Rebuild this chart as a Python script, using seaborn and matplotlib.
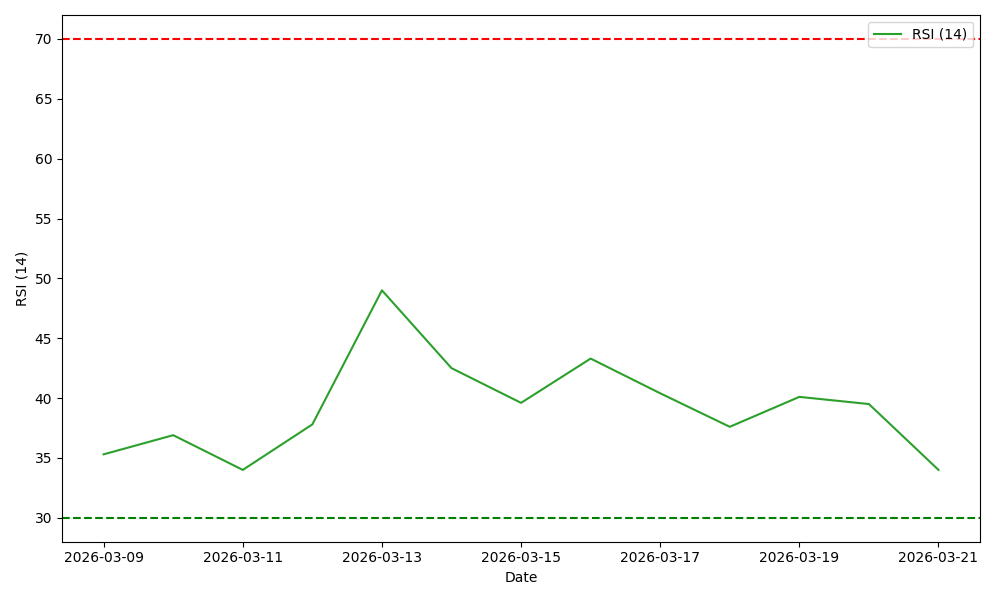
import matplotlib

matplotlib.use("Agg")
import matplotlib.pyplot as plt
import pandas as pd
import seaborn as sns

DATES = pd.date_range("2026-03-09", "2026-03-21", freq="D")
RSI_VALUES = [35.3, 36.9, 34.0, 37.8, 49.0, 42.5, 39.6, 43.3, 40.4, 37.6, 40.1, 39.5, 34.0]
OVERBOUGHT = 70
OVERSOLD = 30

df = pd.DataFrame({"Date": DATES, "RSI": RSI_VALUES})

fig, ax = plt.subplots(figsize=(10, 6), dpi=100)
sns.lineplot(data=df, x="Date", y="RSI", color="#2ca02c", label="RSI (14)", ax=ax)
ax.axhline(OVERBOUGHT, color="red", linestyle="--")
ax.axhline(OVERSOLD, color="green", linestyle="--")
ax.set_xlabel("Date")
ax.set_ylabel("RSI (14)")
ax.legend(loc="upper right")
fig.tight_layout()
fig.savefig("out.png")
